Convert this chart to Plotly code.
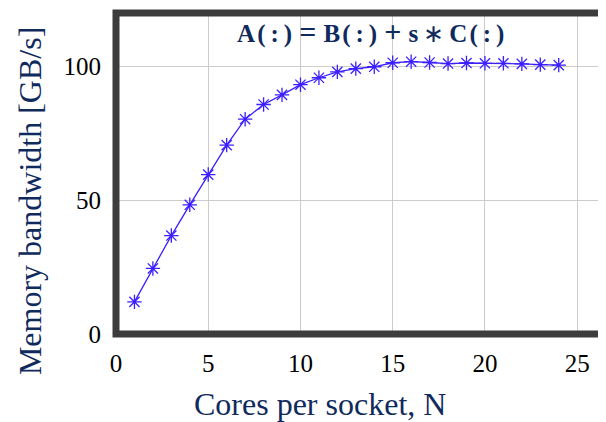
import plotly.graph_objects as go

cores = list(range(1, 25))
bandwidth = [12.0, 24.5, 36.8, 48.3, 59.6, 70.6, 80.3, 85.8, 89.4, 93.2, 95.8, 98.0,
             99.2, 99.9, 101.4, 101.8, 101.5, 101.1, 101.3, 101.2, 101.2, 101.0, 100.7, 100.5]
x_ticks = [0, 5, 10, 15, 20, 25]
y_ticks = [0, 50, 100]
op = '<span style="font-size:30px"><b>{}</b></span>'
title_text = ("<b>A\u200a(\u2009:\u2009)</b>\u2009\u200a" + op.format("=") + "\u2009\u200a<b>B\u200a(\u2009:\u2009)</b>\u2009\u200a"
              + op.format("+") + "\u2009\u200a<b>s</b>\u2009∗\u2009<b>C\u200a(\u2009:\u2009)</b>")
x_title = "Cores per socket, N"
y_title = "Memory bandwidth [GB/s]"

serif = "Liberation Serif, Times New Roman, serif"
navy = "#0f2a5c"
blue = "#3b1fff"
fig = go.Figure()
fig.add_trace(go.Scatter(
    x=cores, y=bandwidth, mode="lines+markers",
    line=dict(color=blue, width=1.3),
    marker=dict(symbol="asterisk-open", size=12, color=blue,
                line=dict(color=blue, width=1.3)),
    showlegend=False,
))
fig.update_layout(
    width=598, height=414,
    margin=dict(l=108, r=3, t=5, b=88, autoexpand=False),
    paper_bgcolor="white", plot_bgcolor="white",
    font=dict(family=serif, color="black"),
    xaxis=dict(range=[0, 26.4], tickvals=x_ticks, showgrid=True, gridcolor="#cccccc",
               gridwidth=1, zeroline=False, showline=False, ticks="", automargin=False,
               ticklabelstandoff=12,
               tickfont=dict(size=25, color="black")),
    yaxis=dict(range=[0, 120], tickvals=y_ticks, showgrid=True, gridcolor="#cccccc",
               gridwidth=1, zeroline=False, showline=False, ticks="", automargin=False,
               ticklabelstandoff=14,
               tickfont=dict(size=25, color="black")),
    shapes=[dict(type="rect", xref="paper", yref="paper", x0=0, y0=0, x1=1, y1=1,
                 line=dict(color="#3c3c3c", width=7), layer="above")],
    annotations=[
        dict(text=title_text, xref="paper", yref="paper", x=0.5216, y=0.941,
             xanchor="center", yanchor="middle", showarrow=False,
             font=dict(size=25, color=navy, family=serif)),
        dict(text=x_title, xref="paper", yref="paper", x=0.419, y=-0.218,
             xanchor="center", yanchor="middle", showarrow=False,
             font=dict(size=32, color=navy, family=serif)),
        dict(text=y_title, xref="paper", yref="paper", x=-0.1766, y=0.414,
             xanchor="center", yanchor="middle", showarrow=False, textangle=-90,
             font=dict(size=32, color=navy, family=serif)),
    ],
)
fig.write_html("out.html")
